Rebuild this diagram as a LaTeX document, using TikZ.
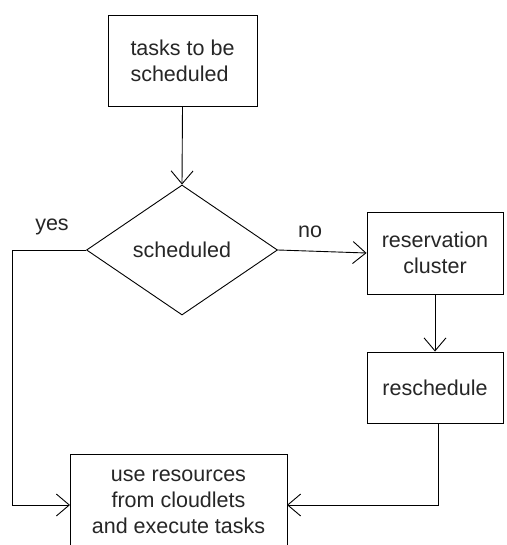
\documentclass[tikz,border=0pt]{standalone}
\usepackage{fontspec}
\setmainfont{Liberation Sans}
\usetikzlibrary{shapes.geometric,arrows.meta}
\begin{document}
\begin{tikzpicture}[x=1pt,y=-1pt,
  every node/.style={font=\fontsize{21.5}{26}\selectfont, text=black!85},
  box/.style={draw, line width=0.9pt, inner sep=0pt, align=center},
  dec/.style={draw, diamond, line width=0.9pt, inner sep=0pt, aspect=1.47, minimum width=191pt, minimum height=130pt},
  lbl/.style={inner sep=0pt},
  conn/.style={line width=0.9pt, -{Straight Barb[length=13pt,width=22pt,line width=0.9pt]}}]
\clip (0,0) rectangle (506,545);
\useasboundingbox (0,0) rectangle (506,545);
\fill[white] (0,0) rectangle (506,545);
\node[box, minimum width=149pt, minimum height=91pt, align=left] (top) at (182.5,60.5) {tasks to be\\scheduled};
\node[dec] (dia) at (182,250) {scheduled};
\node[box, minimum width=136pt, minimum height=82pt] (res) at (435,253) {reservation\\cluster};
\node[box, minimum width=136pt, minimum height=71pt] (resch) at (435,387.5) {reschedule};
\node[box, minimum width=217pt, minimum height=96pt] (use) at (178.5,502) {use resources\\from cloudlets\\and execute tasks};
\node[lbl] (yes) at (52,227) {yes};
\node[lbl] (no) at (310,232) {no};
\coordinate (yl) at (12,250);
\coordinate (yb) at (12,505);
\coordinate (ya) at (70,505);
\coordinate (rs) at (438,423);
\coordinate (rb) at (438,505);
\coordinate (ra) at (287,505);
\draw[conn] (top.south) -- (dia.north);
\draw[conn] (dia.east) -- (res.west);
\draw[conn] (res.south) -- (resch.north);
\draw[conn] (dia.west) -- (yl) -- (yb) -- (ya);
\draw[conn] (rs) -- (rb) -- (ra);
\end{tikzpicture}
\end{document}
